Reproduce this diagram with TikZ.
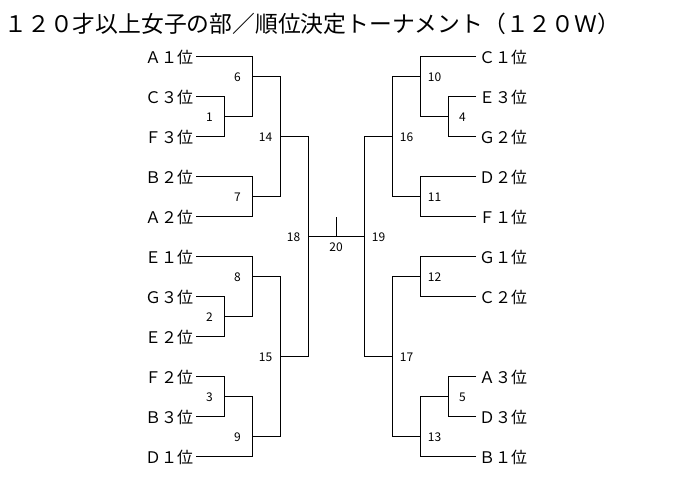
\documentclass[tikz,border=0pt]{standalone}
\usepackage{fontspec}
\setmainfont{Noto Sans CJK JP}

\begin{document}
\begin{tikzpicture}[x=1pt,y=-1pt,line width=1pt,
                    bracket/.style={to path={-| (\tikztotarget)}},
                    num/.style={font=\fontsize{12}{12}\selectfont,inner sep=0pt},
                    numL/.style={num,xshift=-14.5pt},
                    numR/.style={num,xshift=14.5pt}]
  \tikzstyle{team}=[font=\fontsize{16}{16}\selectfont,inner sep=0pt,outer sep=3pt]
  \tikzstyle{teamL}=[team,anchor=east]
  \tikzstyle{teamR}=[team,anchor=west]

  \useasboundingbox (0,0) rectangle (673,478);

  \node[anchor=west,inner sep=0pt,font=\fontsize{22.8}{22.8}\selectfont] (title) at (4,24)
    {１２０才以上女子の部／順位決定トーナメント（１２０Ｗ）};

  % left half
  \node[teamL] (A1) at (196,57)  {Ａ１位};
  \node[teamL] (C3) at (196,97)  {Ｃ３位};
  \node[teamL] (F3) at (196,137) {Ｆ３位};
  \node[teamL] (B2) at (196,177) {Ｂ２位};
  \node[teamL] (A2) at (196,217) {Ａ２位};
  \node[teamL] (E1) at (196,257) {Ｅ１位};
  \node[teamL] (G3) at (196,297) {Ｇ３位};
  \node[teamL] (E2) at (196,337) {Ｅ２位};
  \node[teamL] (F2) at (196,377) {Ｆ２位};
  \node[teamL] (B3) at (196,417) {Ｂ３位};
  \node[teamL] (D1) at (196,457) {Ｄ１位};

  % right half
  \node[teamR] (C1) at (476,57)  {Ｃ１位};
  \node[teamR] (E3) at (476,97)  {Ｅ３位};
  \node[teamR] (G2) at (476,137) {Ｇ２位};
  \node[teamR] (D2) at (476,177) {Ｄ２位};
  \node[teamR] (F1) at (476,217) {Ｆ１位};
  \node[teamR] (G1) at (476,257) {Ｇ１位};
  \node[teamR] (C2) at (476,297) {Ｃ２位};
  \node[teamR] (A3) at (476,377) {Ａ３位};
  \node[teamR] (D3) at (476,417) {Ｄ３位};
  \node[teamR] (B1) at (476,457) {Ｂ１位};

  % match points
  \coordinate (m1)  at (224,117);
  \coordinate (m2)  at (224,317);
  \coordinate (m3)  at (224,397);
  \coordinate (m6)  at (252,77);
  \coordinate (m7)  at (252,197);
  \coordinate (m8)  at (252,277);
  \coordinate (m9)  at (252,437);
  \coordinate (m14) at (280,137);
  \coordinate (m15) at (280,357);
  \coordinate (m18) at (308,237);
  \coordinate (m20) at (336,237);
  \coordinate (top) at (336,217); % top of the final tick
  \coordinate (m19) at (364,237);
  \coordinate (m16) at (392,137);
  \coordinate (m17) at (392,357);
  \coordinate (m10) at (420,77);
  \coordinate (m11) at (420,197);
  \coordinate (m12) at (420,277);
  \coordinate (m13) at (420,437);
  \coordinate (m4)  at (448,117);
  \coordinate (m5)  at (448,397);

  \node[numL] (n1)  at (m1)  {1};
  \node[numL] (n2)  at (m2)  {2};
  \node[numL] (n3)  at (m3)  {3};
  \node[numR] (n4)  at (m4)  {4};
  \node[numR] (n5)  at (m5)  {5};
  \node[numL] (n6)  at (m6)  {6};
  \node[numL] (n7)  at (m7)  {7};
  \node[numL] (n8)  at (m8)  {8};
  \node[numL] (n9)  at (m9)  {9};
  \node[numR] (n10) at (m10) {10};
  \node[numR] (n11) at (m11) {11};
  \node[numR] (n12) at (m12) {12};
  \node[numR] (n13) at (m13) {13};
  \node[numL] (n14) at (m14) {14};
  \node[numL] (n15) at (m15) {15};
  \node[numR] (n16) at (m16) {16};
  \node[numR] (n17) at (m17) {17};
  \node[numL] (n18) at (m18) {18};
  \node[numR] (n19) at (m19) {19};
  \node[num,yshift=-10pt] (n20) at (m20) {20};

  \path (C3)  edge[bracket] (m1)
        (F3)  edge[bracket] (m1)
        (A1)  edge[bracket] (m6)
        (m1)  edge[bracket] (m6)
        (B2)  edge[bracket] (m7)
        (A2)  edge[bracket] (m7)
        (m6)  edge[bracket] (m14)
        (m7)  edge[bracket] (m14)
        (G3)  edge[bracket] (m2)
        (E2)  edge[bracket] (m2)
        (E1)  edge[bracket] (m8)
        (m2)  edge[bracket] (m8)
        (F2)  edge[bracket] (m3)
        (B3)  edge[bracket] (m3)
        (m3)  edge[bracket] (m9)
        (D1)  edge[bracket] (m9)
        (m8)  edge[bracket] (m15)
        (m9)  edge[bracket] (m15)
        (m14) edge[bracket] (m18)
        (m15) edge[bracket] (m18)
        (m18) edge          (m19)
        (m20) edge          (top)
        (E3)  edge[bracket] (m4)
        (G2)  edge[bracket] (m4)
        (C1)  edge[bracket] (m10)
        (m4)  edge[bracket] (m10)
        (D2)  edge[bracket] (m11)
        (F1)  edge[bracket] (m11)
        (m10) edge[bracket] (m16)
        (m11) edge[bracket] (m16)
        (G1)  edge[bracket] (m12)
        (C2)  edge[bracket] (m12)
        (A3)  edge[bracket] (m5)
        (D3)  edge[bracket] (m5)
        (m5)  edge[bracket] (m13)
        (B1)  edge[bracket] (m13)
        (m12) edge[bracket] (m17)
        (m13) edge[bracket] (m17)
        (m16) edge[bracket] (m19)
        (m17) edge[bracket] (m19);
\end{tikzpicture}
\end{document}
